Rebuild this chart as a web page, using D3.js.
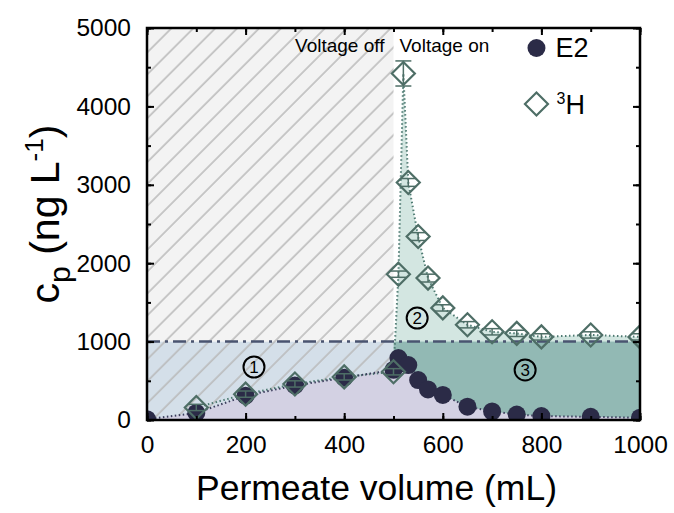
<!DOCTYPE html>
<html>
<head>
<meta charset="utf-8">
<script src="https://cdn.jsdelivr.net/npm/d3@7"></script>
<style>
body { margin: 0; background: #fff; }
text { font-family: "Liberation Sans", Arial, sans-serif; }
</style>
</head>
<body>
<div id="chart"></div>
<script>
// E2 permeate concentration (ng/L) vs permeate volume (mL)
const volE2 = [0, 100, 200, 300, 400, 500, 510, 530, 550, 570, 600, 650, 700, 750, 800, 900, 1000];
const cE2 = [10, 90, 310, 440, 540, 640, 790, 700, 510, 390, 320, 170, 110, 70, 50, 40, 30];

// 3H permeate concentration with error
const volH = [100, 200, 300, 400, 500, 510, 520, 530, 550, 570, 600, 650, 700, 750, 800, 900, 1000];
const cH = [160, 330, 460, 550, 615, 1860, 4420, 3030, 2340, 1810, 1430, 1215, 1125, 1105, 1060, 1085, 1060];
const errH = [40, 40, 40, 40, 40, 40, 160, 50, 50, 50, 40, 40, 40, 40, 40, 40, 40];

const xTicks = [0, 200, 400, 600, 800, 1000];
const yTicks = [0, 1000, 2000, 3000, 4000, 5000];
const threshold = 1000;
const switchVol = 500;

const margin = { top: 28, right: 34, bottom: 93, left: 147 };
const W = 674, H = 513;
const width = W - margin.left - margin.right;
const height = H - margin.top - margin.bottom;

const svg = d3.select('#chart').append('svg')
    .attr('width', W)
    .attr('height', H);

const defs = svg.append('defs');
const hatch = defs.append('pattern')
    .attr('id', 'hatch')
    .attr('patternUnits', 'userSpaceOnUse')
    .attr('width', 15.5)
    .attr('height', 15.5)
    .attr('patternTransform', 'rotate(45)');
hatch.append('line')
    .attr('x1', 2).attr('y1', 0).attr('x2', 2).attr('y2', 15.5)
    .attr('stroke', '#b8b8b8')
    .attr('stroke-width', 1.5);

defs.append('clipPath').attr('id', 'plotclip')
    .append('rect').attr('width', width).attr('height', height);

const g = svg.append('g')
    .attr('transform', 'translate(' + margin.left + ',' + margin.top + ')');

const x = d3.scaleLinear().domain([0, 1000]).range([0, width]);
const y = d3.scaleLinear().domain([0, 5000]).range([height, 0]);

const e2 = volE2.map((v, i) => ({ v: v, c: cE2[i] }));
const h3 = volH.map((v, i) => ({ v: v, c: cH[i], e: errH[i] }));

const plot = g.append('g').attr('clip-path', 'url(#plotclip)');

// background regions
plot.append('rect')
    .attr('x', x(0)).attr('y', y(5000))
    .attr('width', x(switchVol) - x(0)).attr('height', y(threshold) - y(5000))
    .attr('fill', '#f3f3f3');
plot.append('rect')
    .attr('x', x(0)).attr('y', y(threshold))
    .attr('width', x(switchVol) - x(0)).attr('height', y(0) - y(threshold))
    .attr('fill', '#d4dfe9');

// region 2: under the 3H curve after voltage on
const areaH = d3.area()
    .x((d) => x(d.v))
    .y0(y(0))
    .y1((d) => y(d.c));
plot.append('path')
    .datum(h3.filter((d) => d.v >= switchVol))
    .attr('d', areaH)
    .attr('fill', '#d3e6e1');

// region 3
plot.append('rect')
    .attr('x', x(switchVol)).attr('y', y(threshold))
    .attr('width', x(1000) - x(switchVol)).attr('height', y(0) - y(threshold))
    .attr('fill', '#92b9b4');

// hatch over voltage-off part
plot.append('rect')
    .attr('x', x(0)).attr('y', y(5000))
    .attr('width', x(switchVol) - x(0)).attr('height', y(0) - y(5000))
    .attr('fill', 'url(#hatch)');

// under the E2 curve
const areaE = d3.area()
    .x((d) => x(d.v))
    .y0(y(0))
    .y1((d) => y(d.c));
plot.append('path')
    .datum(e2)
    .attr('d', areaE)
    .attr('fill', '#d3d1e3');

// threshold line
plot.append('line')
    .attr('x1', x(0)).attr('x2', x(1000))
    .attr('y1', y(threshold)).attr('y2', y(threshold))
    .attr('stroke', '#4a5470')
    .attr('stroke-width', 2.5)
    .attr('stroke-dasharray', '13,5,3,5');

// dotted connection lines
const line = d3.line().x((d) => x(d.v)).y((d) => y(d.c));
plot.append('path')
    .datum(h3)
    .attr('d', line)
    .attr('fill', 'none')
    .attr('stroke', '#4e7a72')
    .attr('stroke-width', 2)
    .attr('stroke-dasharray', '1.5,2.5');
plot.append('path')
    .datum(e2)
    .attr('d', line)
    .attr('fill', 'none')
    .attr('stroke', '#3b3d5c')
    .attr('stroke-width', 2)
    .attr('stroke-dasharray', '1.5,2.5');

// E2 markers
plot.selectAll('.e2')
    .data(e2)
    .enter().append('circle')
    .attr('class', 'e2')
    .attr('cx', (d) => x(d.v))
    .attr('cy', (d) => y(d.c))
    .attr('r', 9)
    .attr('fill', '#2b2b47');

// 3H error bars
const eb = plot.selectAll('.err')
    .data(h3)
    .enter().append('g')
    .attr('class', 'err')
    .attr('stroke', '#4e6e66')
    .attr('stroke-width', 1.5);
eb.append('line')
    .attr('x1', (d) => x(d.v)).attr('x2', (d) => x(d.v))
    .attr('y1', (d) => y(d.c - d.e)).attr('y2', (d) => y(d.c + d.e));
eb.append('line')
    .attr('x1', (d) => x(d.v) - 8).attr('x2', (d) => x(d.v) + 8)
    .attr('y1', (d) => y(d.c - d.e)).attr('y2', (d) => y(d.c - d.e));
eb.append('line')
    .attr('x1', (d) => x(d.v) - 8).attr('x2', (d) => x(d.v) + 8)
    .attr('y1', (d) => y(d.c + d.e)).attr('y2', (d) => y(d.c + d.e));

// 3H markers
const diamond = 'M0,-11.5L11.5,0L0,11.5L-11.5,0Z';
plot.selectAll('.h3')
    .data(h3)
    .enter().append('path')
    .attr('class', 'h3')
    .attr('d', diamond)
    .attr('transform', (d) => 'translate(' + x(d.v) + ',' + y(d.c) + ')')
    .attr('fill', 'none')
    .attr('stroke', '#4e6e66')
    .attr('stroke-width', 2.2);

// circled region labels
const regions = [
    { label: '1', v: 217, c: 676 },
    { label: '2', v: 548, c: 1300 },
    { label: '3', v: 767, c: 638 }
];
const rl = g.selectAll('.region')
    .data(regions)
    .enter().append('g')
    .attr('class', 'region')
    .attr('transform', (d) => 'translate(' + x(d.v) + ',' + y(d.c) + ')');
rl.append('circle')
    .attr('r', 10.5)
    .attr('fill', 'none')
    .attr('stroke', '#000')
    .attr('stroke-width', 2);
rl.append('text')
    .attr('text-anchor', 'middle')
    .attr('dy', '0.36em')
    .style('font-size', '17px')
    .text((d) => d.label);

// voltage labels
g.append('text')
    .attr('x', x(switchVol) - 9).attr('y', 24)
    .attr('text-anchor', 'end')
    .style('font-size', '19px')
    .text('Voltage off');
g.append('text')
    .attr('x', x(switchVol) + 6).attr('y', 24)
    .style('font-size', '19px')
    .text('Voltage on');

// axes with inward ticks on all four sides
function frameAxis(axis, transform) {
    return g.append('g').attr('transform', transform).call(axis);
}
const xMinor = d3.range(0, 1001, 100);
const yMinor = d3.range(0, 5001, 500);

frameAxis(d3.axisBottom(x).tickValues(xMinor).tickSize(-4).tickFormat(''), 'translate(0,' + height + ')');
frameAxis(d3.axisTop(x).tickValues(xMinor).tickSize(-4).tickFormat(''), 'translate(0,0)');
frameAxis(d3.axisLeft(y).tickValues(yMinor).tickSize(-4).tickFormat(''), 'translate(0,0)');
frameAxis(d3.axisRight(y).tickValues(yMinor).tickSize(-4).tickFormat(''), 'translate(' + width + ',0)');

const xAxis = frameAxis(d3.axisBottom(x).tickValues(xTicks).tickSize(-7).tickPadding(16).tickFormat(d3.format('d')), 'translate(0,' + height + ')');
frameAxis(d3.axisTop(x).tickValues(xTicks).tickSize(-7).tickFormat(''), 'translate(0,0)');
const yAxis = frameAxis(d3.axisLeft(y).tickValues(yTicks).tickSize(-7).tickPadding(16).tickFormat(d3.format('d')), 'translate(0,0)');
frameAxis(d3.axisRight(y).tickValues(yTicks).tickSize(-7).tickFormat(''), 'translate(' + width + ',0)');

g.selectAll('.domain').remove();
g.selectAll('.tick line').attr('stroke', '#000').attr('stroke-width', 2);
xAxis.selectAll('text').style('font-size', '24.5px').style('font-family', '"Liberation Sans", Arial, sans-serif').attr('fill', '#000');
yAxis.selectAll('text').style('font-size', '24.5px').style('font-family', '"Liberation Sans", Arial, sans-serif').attr('fill', '#000');

g.append('rect')
    .attr('width', width).attr('height', height)
    .attr('fill', 'none')
    .attr('stroke', '#000')
    .attr('stroke-width', 2.5);

// legend
const legend = g.append('g').attr('transform', 'translate(' + x(790) + ',0)');
legend.append('circle').attr('cx', 0).attr('cy', 20).attr('r', 9).attr('fill', '#2b2b47');
legend.append('text').attr('x', 19).attr('y', 29).style('font-size', '27px').text('E2');
legend.append('path').attr('d', diamond)
    .attr('transform', 'translate(0,76)')
    .attr('fill', 'none').attr('stroke', '#4e6e66').attr('stroke-width', 2.2);
const hl = legend.append('text').attr('x', 20).attr('y', 86).style('font-size', '27px');
hl.append('tspan').attr('dy', -10).style('font-size', '16px').text('3');
hl.append('tspan').attr('dy', 10).text('H');

// axis titles
svg.append('text')
    .attr('x', margin.left + width / 2 - 17).attr('y', 500)
    .attr('text-anchor', 'middle')
    .style('font-size', '35.5px')
    .text('Permeate volume (mL)');

const yt = svg.append('text')
    .attr('transform', 'translate(59,' + (margin.top + height / 2 - 10) + ') rotate(-90)')
    .attr('text-anchor', 'middle')
    .style('font-size', '41px');
yt.append('tspan').text('c');
yt.append('tspan').attr('dy', 11).style('font-size', '30px').text('p');
yt.append('tspan').attr('dy', -11).text(' (ng L');
yt.append('tspan').attr('dy', -16).style('font-size', '26px').text('-1');
yt.append('tspan').attr('dy', 16).text(')');
</script>
</body>
</html>
